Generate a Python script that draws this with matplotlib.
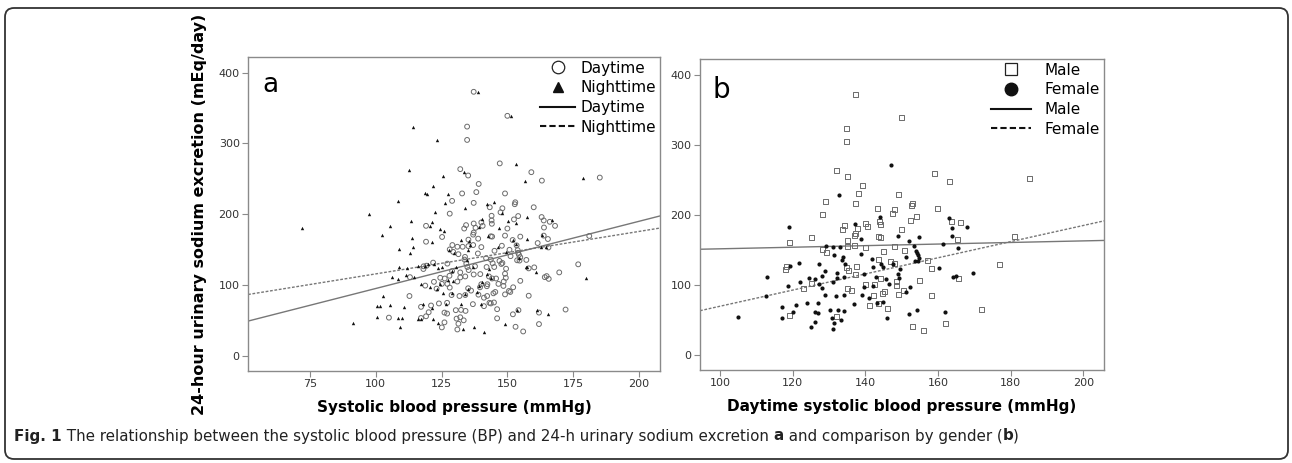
import numpy as np
import matplotlib.pyplot as plt
from matplotlib.lines import Line2D
from matplotlib.patches import FancyBboxPatch
from matplotlib.transforms import IdentityTransform

# daytime SBP vs sodium, split by gender (panel b); union = daytime points in panel a
male_x = [137.2, 150.0, 134.7, 134.7, 132.1, 135.1, 185.1, 159.1, 163.1, 139.1, 138.2, 129.0,
          149.1, 137.2, 153.0, 152.8, 143.3, 160.0, 148.1, 147.4, 128.1, 140.1, 140.6, 144.0,
          144.1, 154.1, 152.5, 163.8, 166.1, 133.6, 134.3, 137.9, 150.0, 137.2, 137.0, 125.2,
          119.1, 135.2, 143.7, 144.2, 165.4, 181.1, 137.0, 135.2, 140.1, 128.1, 129.4, 147.9,
          150.8, 145.1, 143.7, 147.0, 148.1, 157.2, 134.8, 137.7, 135.3, 118.2, 118.1, 158.1,
          176.9, 137.2, 144.2, 165.7, 154.9, 123.1, 125.1, 135.1, 136.2, 140.1, 142.4, 148.6,
          148.5, 150.6, 149.1, 142.3, 144.7, 145.4, 158.1, 141.1, 143.7, 146.1, 132.1, 119.1,
          172.1, 162.0, 153.1, 156.0]
male_y = [372.9, 339.0, 323.8, 305.0, 263.8, 254.8, 251.9, 259.5, 247.6, 242.9, 231.4, 219.0,
          229.5, 216.2, 217.0, 214.3, 210.0, 210.0, 208.6, 202.9, 201.0, 188.6, 183.8, 191.4,
          186.7, 197.6, 192.9, 191.4, 189.5, 180.0, 184.8, 181.0, 180.0, 174.3, 171.4, 168.1,
          161.4, 164.3, 169.0, 168.6, 165.2, 169.5, 156.7, 155.2, 153.8, 150.5, 147.1, 155.7,
          150.0, 148.6, 136.2, 134.3, 131.4, 135.7, 125.7, 126.7, 121.4, 126.7, 122.9, 123.8,
          129.5, 115.2, 109.5, 109.0, 106.2, 95.2, 101.9, 95.7, 92.4, 101.4, 101.4, 105.2,
          99.0, 91.9, 87.1, 84.8, 88.6, 90.5, 85.2, 70.5, 74.3, 66.2, 54.8, 56.2,
          65.7, 45.2, 41.4, 34.8]

female_x = [147.1, 132.8, 119.1, 137.2, 144.0, 163.0, 163.9, 168.1, 163.8, 154.9, 149.1, 152.0,
            138.9, 161.5, 165.6, 113.0, 112.8, 105.0, 117.2, 117.2, 120.1, 121.0, 118.8, 119.3,
            121.8, 122.1, 124.0, 125.1, 126.1, 126.1, 127.1, 127.1, 127.2, 127.2, 124.5, 126.2,
            128.0, 129.1, 129.0, 128.8, 128.1, 130.4, 130.7, 131.0, 131.4, 131.8, 131.0, 131.4,
            132.1, 132.1, 132.4, 133.4, 131.0, 133.0, 133.7, 134.0, 134.0, 134.1, 133.9, 134.4,
            136.9, 138.8, 139.7, 139.0, 139.6, 141.1, 141.9, 142.1, 142.2, 143.0, 143.2, 144.4,
            145.0, 145.7, 144.9, 146.1, 146.6, 147.7, 149.1, 149.4, 149.5, 151.2, 151.1, 152.2,
            152.1, 154.2, 153.5, 153.9, 154.1, 154.4, 154.9, 153.7, 154.6, 160.2, 162.0, 164.2,
            164.9, 169.7]
female_y = [271.9, 229.5, 183.8, 187.1, 198.0, 196.2, 181.4, 183.8, 170.0, 168.6, 170.0, 163.8,
            165.7, 159.5, 153.3, 111.4, 84.8, 54.3, 69.5, 53.8, 61.9, 71.4, 99.5, 127.6,
            131.9, 104.8, 74.3, 40.5, 47.6, 61.4, 60.0, 75.2, 130.5, 101.9, 110.5, 109.5,
            113.3, 156.7, 120.0, 86.2, 96.7, 64.8, 52.9, 37.6, 45.7, 84.8, 154.3, 143.8,
            118.1, 111.0, 65.2, 50.5, 105.2, 154.3, 136.2, 112.4, 86.2, 63.8, 140.0, 130.5,
            73.3, 144.8, 115.7, 86.7, 97.1, 82.4, 138.1, 125.7, 98.6, 112.4, 75.2, 131.0,
            125.7, 109.5, 75.7, 53.3, 101.9, 130.0, 116.2, 110.5, 123.3, 141.0, 90.5, 97.1,
            59.0, 64.8, 156.2, 149.5, 145.7, 142.9, 139.5, 135.2, 134.8, 125.2, 61.4, 111.4,
            112.9, 118.1]

# nighttime SBP vs sodium (panel a triangles)
night_x = [72.0, 97.4, 138.9, 151.2, 114.2, 123.2, 153.3, 112.6, 125.6, 133.6, 156.7, 178.9,
           121.6, 118.7, 119.3, 127.5, 108.4, 126.4, 133.8, 142.3, 145.0, 122.6, 148.0, 113.3,
           105.6, 102.5, 120.7, 121.5, 124.3, 125.8, 157.4, 157.4, 163.3, 167.0, 113.9, 108.7,
           114.0, 112.9, 121.3, 132.3, 135.6, 146.3, 142.8, 162.8, 153.2, 108.8, 111.7, 116.0,
           118.7, 119.8, 122.3, 123.7, 125.0, 111.6, 106.2, 114.4, 108.4, 117.1, 120.5, 123.2,
           124.4, 125.6, 102.7, 100.6, 101.6, 105.5, 110.7, 117.9, 121.3, 126.6, 132.3, 140.1,
           100.3, 108.4, 109.9, 116.2, 117.0, 121.8, 123.8, 109.3, 91.4, 133.3, 137.2, 141.3,
           149.0, 161.4, 165.6, 180.0, 153.6, 160.7, 157.1, 154.5, 164.8, 149.6, 143.2, 142.2,
           143.6, 140.3, 139.4, 138.6, 135.2, 133.8, 128.9, 129.5, 127.4, 128.8, 130.5, 136.9,
           134.7, 135.2, 135.9, 127.9, 129.7, 139.4, 140.4, 146.8, 150.3, 153.3, 152.0, 157.3]
night_y = [180.7, 200.5, 372.2, 338.4, 323.3, 304.5, 271.1, 263.1, 254.6, 259.3, 247.1, 251.8,
           240.0, 230.6, 228.7, 229.2, 218.8, 216.0, 208.9, 214.6, 217.4, 203.3, 201.4, 191.1,
           183.5, 171.3, 183.5, 189.2, 179.8, 176.5, 195.8, 165.2, 170.4, 192.5, 167.1, 150.6,
           153.4, 144.9, 160.5, 163.8, 162.8, 154.4, 169.4, 154.4, 157.6, 126.1, 124.2, 127.0,
           126.6, 129.9, 129.9, 123.8, 126.1, 114.4, 112.0, 111.5, 108.7, 101.2, 97.9, 94.6,
           101.6, 88.5, 84.7, 70.6, 70.6, 72.5, 68.7, 73.9, 68.2, 72.9, 73.4, 72.9,
           55.5, 53.2, 53.6, 51.8, 52.9, 52.2, 46.1, 40.9, 46.6, 37.6, 40.9, 34.4,
           45.2, 65.4, 59.8, 109.6, 64.9, 118.1, 126.1, 137.9, 153.9, 146.8, 122.4, 115.3,
           109.6, 104.9, 98.6, 90.4, 94.1, 87.5, 88.5, 105.9, 107.3, 120.5, 126.1, 126.1,
           135.5, 149.6, 156.7, 149.6, 144.9, 182.6, 193.9, 180.7, 190.6, 187.3, 163.8, 125.2]

# fitted lines (intercept, slope)
fit_day = (0.6, 0.948)
fit_night = (56.1, 0.599)
fit_male = (140.7, 0.113)
fit_female = (-45.3, 1.153)

day_x = male_x + female_x
day_y = male_y + female_y

plt.rcParams['font.family'] = 'DejaVu Sans'
fig = plt.figure(figsize=(12.92, 4.63), dpi=100)

# rounded frame around the figure
frame = FancyBboxPatch((5, 4), 1283, 451, boxstyle="round,pad=0,rounding_size=9",
                       transform=IdentityTransform(), fill=False, ec='#333333', lw=1.3)
fig.patches.append(frame)

ax1 = fig.add_axes([0.1920, 0.1987, 0.3189, 0.6782])
ax2 = fig.add_axes([0.5418, 0.2009, 0.3127, 0.6717])

gray = '#6b6b6b'

def style(ax):
    for s in ax.spines.values():
        s.set_color('#8a8a8a')
        s.set_linewidth(1.0)
    ax.tick_params(direction='out', length=4, width=0.8, color='#8a8a8a',
                   labelsize=8, labelcolor='#333333', pad=2)

# panel a
ax1.scatter(day_x, day_y, s=12, facecolors='none', edgecolors=gray, linewidths=0.7, zorder=3)
ax1.scatter(night_x, night_y, s=6, marker='^', color='#111111', linewidths=0, zorder=3)
ax1.axline((0, fit_day[0]), slope=fit_day[1], color='#777777', lw=1.0)
ax1.axline((0, fit_night[0]), slope=fit_night[1], color='#777777', lw=1.0, ls=(0, (2, 1.2)))
ax1.set_xlim(51.5, 208)
ax1.set_ylim(-21, 422)
ax1.set_xticks([75, 100, 125, 150, 175, 200])
ax1.set_yticks([0, 100, 200, 300, 400])
style(ax1)
ax1.text(0.035, 0.91, 'a', transform=ax1.transAxes, fontsize=19, va='center', ha='left')
ax1.set_xlabel('Systolic blood pressure (mmHg)', fontsize=11, fontweight='bold', labelpad=8)
ax1.set_ylabel('24-hour urinary sodium excretion (mEq/day)', fontsize=11.5, fontweight='bold',
               labelpad=8)
h1 = [Line2D([], [], ls='none', marker='o', ms=9, mfc='none', mec='#222222', mew=0.9),
      Line2D([], [], ls='none', marker='^', ms=7, color='#111111'),
      Line2D([], [], color='#111111', lw=1.5),
      Line2D([], [], color='#111111', lw=1.5, ls=(0, (3, 1.5)))]
ax1.legend(h1, ['Daytime', 'Nighttime', 'Daytime', 'Nighttime'], loc='upper right',
           frameon=False, fontsize=11, handlelength=2.3, handletextpad=0.35,
           labelspacing=0.3, borderaxespad=0.1, borderpad=0.15)

# panel b
ax2.scatter(male_x, male_y, s=13, marker='s', facecolors='none', edgecolors=gray,
            linewidths=0.7, zorder=3)
ax2.scatter(female_x, female_y, s=9, marker='o', color='#111111', linewidths=0, zorder=3)
ax2.axline((0, fit_male[0]), slope=fit_male[1], color='#777777', lw=1.0)
ax2.axline((0, fit_female[0]), slope=fit_female[1], color='#777777', lw=1.0, ls=(0, (2, 1.2)))
ax2.set_xlim(94.5, 205.7)
ax2.set_ylim(-21, 423)
ax2.set_xticks([100, 120, 140, 160, 180, 200])
ax2.set_yticks([0, 100, 200, 300, 400])
style(ax2)
ax2.text(0.03, 0.9, 'b', transform=ax2.transAxes, fontsize=20, va='center', ha='left')
ax2.set_xlabel('Daytime systolic blood pressure (mmHg)', fontsize=11, fontweight='bold',
               labelpad=8)
h2 = [Line2D([], [], ls='none', marker='s', ms=9, mfc='none', mec='#222222', mew=0.9),
      Line2D([], [], ls='none', marker='o', ms=9, color='#111111'),
      Line2D([], [], color='#111111', lw=1.5),
      Line2D([], [], color='#111111', lw=1.5, ls=(0, (3, 1.5)))]
ax2.legend(h2, ['Male', 'Female', 'Male', 'Female'], loc='upper right',
           frameon=False, fontsize=11, handlelength=2.6, handletextpad=0.9,
           labelspacing=0.3, borderaxespad=0.1, borderpad=0.15)

# caption with bold runs
runs = [('Fig. 1', 'bold'), (' The relationship between the systolic blood pressure (BP) and '
        '24-h urinary sodium excretion ', 'normal'), ('a', 'bold'),
        (' and comparison by gender (', 'normal'), ('b', 'bold'), (')', 'normal')]
renderer = fig.canvas.get_renderer()
x = 14
for s, w in runs:
    t = fig.text(x, 27, s, transform=IdentityTransform(), fontsize=10.9, fontweight=w,
                 va='center', ha='left', color='#222222')
    x = t.get_window_extent(renderer).x1

fig.savefig('out.png', dpi=100)
